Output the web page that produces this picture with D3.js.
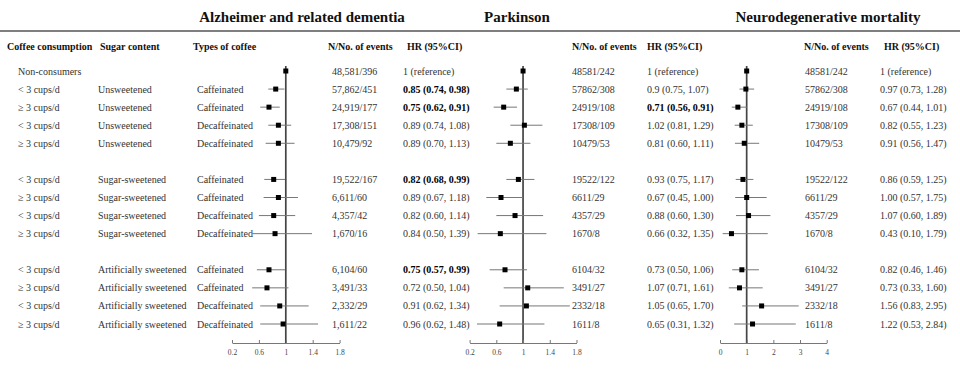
<!DOCTYPE html>
<html><head><meta charset="utf-8">
<script src="https://cdn.jsdelivr.net/npm/d3@7"></script>
<style>body{margin:0;background:#fff}svg{display:block;font-family:"Liberation Serif","Times New Roman",serif}</style>
</head><body><svg id="c" width="960" height="375"></svg>
<script>
const consumption = ["Non-consumers","< 3 cups/d","≥ 3 cups/d","< 3 cups/d","≥ 3 cups/d","< 3 cups/d","≥ 3 cups/d","< 3 cups/d","≥ 3 cups/d","< 3 cups/d","≥ 3 cups/d","< 3 cups/d","≥ 3 cups/d"];
const sugar = ["","Unsweetened","Unsweetened","Unsweetened","Unsweetened","Sugar-sweetened","Sugar-sweetened","Sugar-sweetened","Sugar-sweetened","Artificially sweetened","Artificially sweetened","Artificially sweetened","Artificially sweetened"];
const coffeeType = ["","Caffeinated","Caffeinated","Decaffeinated","Decaffeinated","Caffeinated","Caffeinated","Decaffeinated","Decaffeinated","Caffeinated","Caffeinated","Decaffeinated","Decaffeinated"];

const adN = ["48,581/396","57,862/451","24,919/177","17,308/151","10,479/92","19,522/167","6,611/60","4,357/42","1,670/16","6,104/60","3,491/33","2,332/29","1,611/22"];
const adHR = [1,0.85,0.75,0.89,0.89,0.82,0.89,0.82,0.84,0.75,0.72,0.91,0.96];
const adLo = [null,0.74,0.62,0.74,0.70,0.68,0.67,0.60,0.50,0.57,0.50,0.62,0.62];
const adHi = [null,0.98,0.91,1.08,1.13,0.99,1.18,1.14,1.39,0.99,1.04,1.34,1.48];
const adText = ["1 (reference)","0.85 (0.74, 0.98)","0.75 (0.62, 0.91)","0.89 (0.74, 1.08)","0.89 (0.70, 1.13)","0.82 (0.68, 0.99)","0.89 (0.67, 1.18)","0.82 (0.60, 1.14)","0.84 (0.50, 1.39)","0.75 (0.57, 0.99)","0.72 (0.50, 1.04)","0.91 (0.62, 1.34)","0.96 (0.62, 1.48)"];
const adBold = [false,true,true,false,false,true,false,false,false,true,false,false,false];

const pdN = ["48581/242","57862/308","24919/108","17308/109","10479/53","19522/122","6611/29","4357/29","1670/8","6104/32","3491/27","2332/18","1611/8"];
const pdHR = [1,0.9,0.71,1.02,0.81,0.93,0.67,0.88,0.66,0.73,1.07,1.05,0.65];
const pdLo = [null,0.75,0.56,0.81,0.60,0.75,0.45,0.60,0.32,0.50,0.71,0.65,0.31];
const pdHi = [null,1.07,0.91,1.29,1.11,1.17,1.00,1.30,1.35,1.06,1.61,1.70,1.32];
const pdText = ["1 (reference)","0.9 (0.75, 1.07)","0.71 (0.56, 0.91)","1.02 (0.81, 1.29)","0.81 (0.60, 1.11)","0.93 (0.75, 1.17)","0.67 (0.45, 1.00)","0.88 (0.60, 1.30)","0.66 (0.32, 1.35)","0.73 (0.50, 1.06)","1.07 (0.71, 1.61)","1.05 (0.65, 1.70)","0.65 (0.31, 1.32)"];
const pdBold = [false,false,true,false,false,false,false,false,false,false,false,false,false];

const nmN = ["48581/242","57862/308","24919/108","17308/109","10479/53","19522/122","6611/29","4357/29","1670/8","6104/32","3491/27","2332/18","1611/8"];
const nmHR = [1,0.97,0.67,0.82,0.91,0.86,1.00,1.07,0.43,0.82,0.73,1.56,1.22];
const nmLo = [null,0.73,0.44,0.55,0.56,0.59,0.57,0.60,0.10,0.46,0.33,0.83,0.53];
const nmHi = [null,1.28,1.01,1.23,1.47,1.25,1.75,1.89,1.79,1.46,1.60,2.95,2.84];
const nmText = ["1 (reference)","0.97 (0.73, 1.28)","0.67 (0.44, 1.01)","0.82 (0.55, 1.23)","0.91 (0.56, 1.47)","0.86 (0.59, 1.25)","1.00 (0.57, 1.75)","1.07 (0.60, 1.89)","0.43 (0.10, 1.79)","0.82 (0.46, 1.46)","0.73 (0.33, 1.60)","1.56 (0.83, 2.95)","1.22 (0.53, 2.84)"];
const nmBold = [false,false,false,false,false,false,false,false,false,false,false,false,false];

const panelTitles = ["Alzheimer and related dementia","Parkinson","Neurodegenerative mortality"];
const ticksAD = [0.2,0.6,1,1.4,1.8];
const ticksPD = [0.2,0.6,1,1.4,1.8];
const ticksNM = [0,1,2,3,4];
const headerLeft = ["Coffee consumption","Sugar content","Types of coffee"];
const headerPanel = ["N/No. of events","HR (95%CI)"];

const svg = d3.select("#c");
const txtCol = "#333";

// row slots: blank line between sugar groups
const slots = [];
let s = 0;
sugar.forEach((g,i)=>{ if(i>1 && g!==sugar[i-1]) s++; slots.push(s); s++; });
const y = d3.scaleLinear().domain([0, d3.max(slots)]).range([71, 324]);

// top rule
svg.append("line").attr("x1",0).attr("x2",960).attr("y1",31).attr("y2",31).attr("stroke","#555").attr("stroke-width",1.5);

// titles
const titleX = [302, 517, 828];
panelTitles.forEach((t,i)=>svg.append("text").attr("x",titleX[i]).attr("y",22).attr("text-anchor","middle")
  .attr("font-size",15).attr("font-weight","bold").attr("fill","#111").text(t));

// left headers
const leftX = [7,100,193];
headerLeft.forEach((t,i)=>svg.append("text").attr("x",leftX[i]).attr("y",50).attr("font-size",10).attr("font-weight","bold").attr("fill","#111").text(t));

// left table
const colX = [18,98,197];
[consumption,sugar,coffeeType].forEach((arr,c)=>{
  svg.append("g").selectAll("text").data(arr).join("text")
    .attr("x",colX[c]).attr("y",(d,i)=>y(slots[i])).attr("dy","0.35em")
    .attr("font-size",10).attr("fill",txtCol).text(d=>d);
});

const panels = [
  {N:adN,HR:adHR,lo:adLo,hi:adHi,text:adText,bold:adBold,ticks:ticksAD,domain:[0.2,1.8],range:[232,339.6],nx:332,hx:403,hnx:328,hhx:407},
  {N:pdN,HR:pdHR,lo:pdLo,hi:pdHi,text:pdText,bold:pdBold,ticks:ticksPD,domain:[0.2,1.8],range:[469.6,576.5],nx:572,hx:647,hnx:572,hhx:647},
  {N:nmN,HR:nmHR,lo:nmLo,hi:nmHi,text:nmText,bold:nmBold,ticks:ticksNM,domain:[0,4],range:[720,826.7],nx:805,hx:880,hnx:804,hhx:884}
];
const axisY = 343;

panels.forEach(p=>{
  const x = d3.scaleLinear().domain(p.domain).range(p.range);
  const g = svg.append("g");
  // headers
  svg.append("text").attr("x",p.hnx).attr("y",50).attr("font-size",10).attr("font-weight","bold").attr("fill","#111").text(headerPanel[0]);
  svg.append("text").attr("x",p.hhx).attr("y",50).attr("font-size",10).attr("font-weight","bold").attr("fill","#111").text(headerPanel[1]);
  // axis
  const ax = svg.append("g").attr("transform",`translate(0,${axisY})`)
    .call(d3.axisBottom(x).tickValues(p.ticks).tickSize(-3).tickSizeOuter(0).tickPadding(7).tickFormat(d3.format("")));
  ax.select(".domain").attr("stroke","#777");
  ax.selectAll(".tick line").attr("stroke","#777");
  ax.selectAll("text").attr("font-size",7.5).attr("fill","#444").attr("font-family","Liberation Serif");
  // reference line
  g.append("line").attr("x1",x(1)).attr("x2",x(1)).attr("y1",y(0)-5).attr("y2",axisY)
    .attr("stroke","#444").attr("stroke-width",1.7);
  // CIs
  const idx = d3.range(p.HR.length);
  g.append("g").selectAll("line").data(idx.filter(i=>p.lo[i]!=null)).join("line")
    .attr("x1",i=>x(p.lo[i])).attr("x2",i=>x(p.hi[i]))
    .attr("y1",i=>y(slots[i])).attr("y2",i=>y(slots[i]))
    .attr("stroke","#777").attr("stroke-width",1);
  // squares
  g.append("g").selectAll("rect").data(idx).join("rect")
    .attr("x",i=>x(p.HR[i])-2.5).attr("y",i=>y(slots[i])-2.5).attr("width",5).attr("height",5).attr("fill","#000");
  // N text
  g.append("g").selectAll("text").data(p.N).join("text")
    .attr("x",p.nx).attr("y",(d,i)=>y(slots[i])).attr("dy","0.35em").attr("font-size",10).attr("fill",txtCol).text(d=>d);
  g.append("g").selectAll("text").data(p.text).join("text")
    .attr("x",p.hx).attr("y",(d,i)=>y(slots[i])).attr("dy","0.35em").attr("font-size",10)
    .attr("font-weight",(d,i)=>p.bold[i]?"bold":"normal").attr("fill",(d,i)=>p.bold[i]?"#000":txtCol).text(d=>d);
});
</script></body></html>
